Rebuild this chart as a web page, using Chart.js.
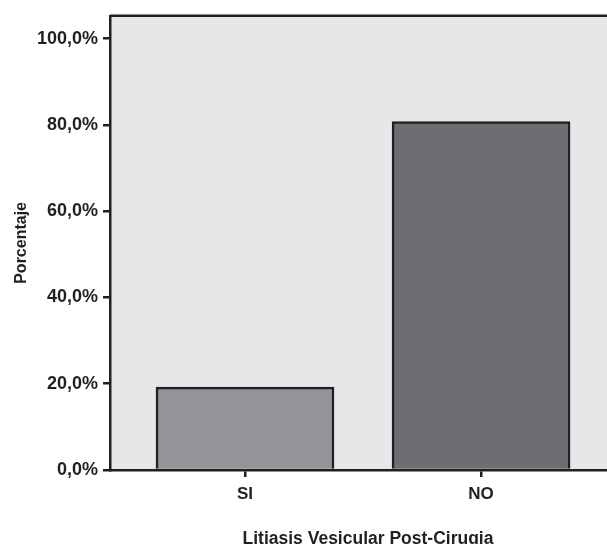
<!DOCTYPE html>
<html>
<head>
<meta charset="utf-8">
<script src="https://cdn.jsdelivr.net/npm/chart.js@4"></script>
<style>
  html, body { margin: 0; padding: 0; background: #fff; overflow: hidden; }
  #wrap { width: 626px; height: 552px; }
</style>
</head>
<body>
<div id="wrap"><canvas id="chart"></canvas></div>
<script>
// Data
const categories = ['SI', 'NO'];
const categoryPos = [1, 2];
const percentValues = [19.2, 80.8];
const yTicks = [0, 20, 40, 60, 80, 100];
const barColors = ['#939598', '#6d6e71'];

const ink = '#231f20';
const fontFamily = '"Liberation Sans", Arial, sans-serif';

// Grey plot background plus the top frame line
const plotFrame = {
  id: 'plotFrame',
  beforeDraw(chart) {
    const { ctx, chartArea } = chart;
    ctx.save();
    ctx.fillStyle = '#e6e7e8';
    ctx.fillRect(chartArea.left, chartArea.top, chartArea.right - chartArea.left, chartArea.bottom - chartArea.top);
    ctx.restore();
  },
  afterDraw(chart) {
    const { ctx, chartArea } = chart;
    ctx.save();
    ctx.strokeStyle = ink;
    ctx.lineWidth = 2.5;
    ctx.beginPath();
    ctx.moveTo(chartArea.left, chartArea.top);
    ctx.lineTo(chartArea.right, chartArea.top);
    ctx.stroke();
    ctx.restore();
  }
};

const points = categoryPos.map((x, i) => ({ x: x, y: percentValues[i] }));

new Chart(document.getElementById('chart'), {
  type: 'bar',
  data: {
    datasets: [{
      data: points,
      backgroundColor: barColors,
      borderColor: ink,
      borderWidth: 2.5,
      barThickness: 178
    }]
  },
  options: {
    responsive: true,
    maintainAspectRatio: false,
    animation: false,
    layout: { padding: { top: 15, right: 0, left: 0, bottom: 0 } },
    plugins: {
      legend: { display: false },
      tooltip: { enabled: false }
    },
    scales: {
      x: {
        type: 'linear',
        offset: false,
        min: 0.428,
        max: 2.614,
        afterBuildTicks: scale => { scale.ticks = categoryPos.map(v => ({ value: v })); },
        afterFit: scale => { scale.height = 82; },
        ticks: {
          color: ink,
          font: { family: fontFamily, size: 17, weight: 'bold' },
          padding: 7,
          callback: (v) => categories[categoryPos.indexOf(v)] || ''
        },
        grid: { offset: false, drawOnChartArea: false, drawTicks: true, tickLength: 7, color: ink, lineWidth: 2.5 },
        border: { display: true, color: ink, width: 2.5 },
        title: {
          display: true,
          text: 'Litiasis Vesicular Post-Cirugia',
          color: ink,
          font: { family: fontFamily, size: 17.5, weight: 'bold' },
          padding: { top: 0, bottom: 2 }
        }
      },
      y: {
        min: 0,
        max: 105.3,
        afterBuildTicks: scale => { scale.ticks = yTicks.map(v => ({ value: v })); },
        afterFit: scale => { scale.width = 110; },
        ticks: {
          color: ink,
          font: { family: fontFamily, size: 18, weight: 'bold' },
          padding: 5,
          callback: v => v.toFixed(1).replace('.', ',') + '%'
        },
        grid: { drawOnChartArea: false, drawTicks: true, tickLength: 7, color: ink, lineWidth: 2.5 },
        border: { display: true, color: ink, width: 2.5 },
        title: {
          display: true,
          text: 'Porcentaje',
          color: ink,
          font: { family: fontFamily, size: 16, weight: 'bold' },
          padding: { top: 12, bottom: 0 }
        }
      }
    }
  },
  plugins: [plotFrame]
});
</script>
</body>
</html>
